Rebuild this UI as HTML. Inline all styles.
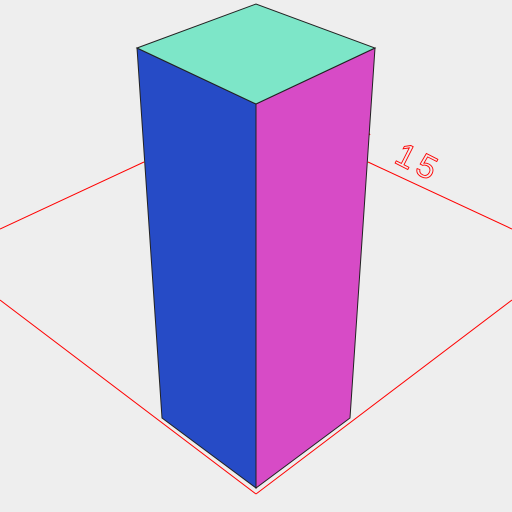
<!DOCTYPE html>
<html><head><meta charset="utf-8"><style>
html,body{margin:0;padding:0;background:#eeeeee;}
svg{display:block;}
</style></head><body>
<svg id="chart" width="512" height="512" viewBox="0 0 512 512" xmlns="http://www.w3.org/2000/svg">
<rect width="512" height="512" fill="#eeeeee"/>
<g id="floor" stroke="#ff0000" stroke-width="1" fill="none">
<line x1="0" y1="229" x2="144" y2="162"/>
<line x1="368" y1="162" x2="512" y2="229"/>
<line x1="0" y1="300" x2="256" y2="494"/>
<line x1="256" y1="494" x2="512" y2="300"/>
<line x1="368" y1="131" x2="370" y2="135"/>
</g>
<text x="420" y="174" transform="rotate(27 420 160)" font-family="Liberation Sans, sans-serif" font-size="33" fill="none" stroke="#ff0000" stroke-width="0.9" letter-spacing="5" text-anchor="middle">15</text>
<g id="bars"></g>
</svg>
<script>
const categories = ["A"];
const values = [15];
const colors = ["#264bc6"];
// scale: value -> vertical pixel height of bar
const yMax = 15;
const fullHeight = 370;
function h(v){ return v / yMax * fullHeight; }
const g = document.getElementById('bars');
const NS = 'http://www.w3.org/2000/svg';
values.forEach((v, i) => {
  const hb = h(v);
  const bl = [162, 418], bf = [256, 488], br = [350, 418];
  const tl = [137, bl[1] - hb], tf = [256, bf[1] - hb * (384/370)], tr = [375, br[1] - hb];
  const tb = [256, tl[1] - 44];
  const pts = a => a.map(p => p.join(',')).join(' ');
  const left = document.createElementNS(NS, 'polygon');
  
  
  left.setAttribute('points', pts([tl, tf, bf, bl]));
  left.setAttribute('fill', '#264bc6');
  left.setAttribute('stroke', '#222');
  left.setAttribute('stroke-width', '1');
  g.appendChild(left);
  const right = document.createElementNS(NS, 'polygon');
  
  
  right.setAttribute('points', pts([tf, tr, br, bf]));
  right.setAttribute('fill', '#d74bc6');
  right.setAttribute('stroke', '#222');
  right.setAttribute('stroke-width', '1');
  g.appendChild(right);
  const top = document.createElementNS(NS, 'polygon');
  
  
  top.setAttribute('points', pts([tl, tb, tr, tf]));
  top.setAttribute('fill', '#7de6c8');
  top.setAttribute('stroke', '#222');
  top.setAttribute('stroke-width', '1');
  g.appendChild(top);
});
</script>
</body></html>
